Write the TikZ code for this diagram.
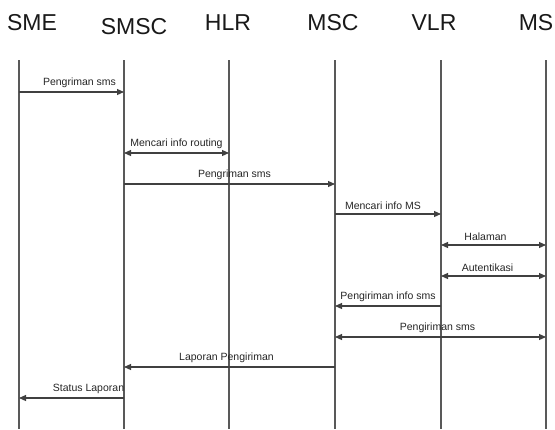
\documentclass[tikz,border=0pt]{standalone}
\usepackage{fontspec}
\setmainfont{Liberation Sans}
\usetikzlibrary{arrows.meta}

\tikzset{
  head/.style={font=\fontsize{23}{23}\selectfont, text=black!90, inner sep=0pt},
  life/.style={draw=black!65, line width=1.2pt},
  msg/.style={draw=black!75, line width=1.1pt, -{Triangle[length=7pt,width=6pt]}},
  msgboth/.style={msg, {Triangle[length=7pt,width=6pt]}-{Triangle[length=7pt,width=6pt]}},
  lbl/.style={font=\fontsize{10.5}{11}\selectfont, text=black!85, inner sep=1pt, above=3pt}
}

\begin{document}
\begin{tikzpicture}[x=1pt, y=-1pt]
\useasboundingbox[fill=white] (0,0) rectangle (555,429);

% headers
\node[head] (hsme) at (32,23) {SME};
\node[head] (hsmsc) at (134,27) {SMSC};
\node[head] (hhlr) at (228,23) {HLR};
\node[head] (hmsc) at (333,23) {MSC};
\node[head] (hvlr) at (434,23) {VLR};
\node[head] (hms) at (536,23) {MS};

% lifelines
\coordinate (sme) at (19,60);
\coordinate (smsc) at (124,60);
\coordinate (hlr) at (229,60);
\coordinate (msc) at (335,60);
\coordinate (vlr) at (441,60);
\coordinate (ms) at (546,60);
\draw[life] (sme) -- (sme |- 0,429);
\draw[life] (smsc) -- (smsc |- 0,429);
\draw[life] (hlr) -- (hlr |- 0,429);
\draw[life] (msc) -- (msc |- 0,429);
\draw[life] (vlr) -- (vlr |- 0,429);
\draw[life] (ms) -- (ms |- 0,429);

% messages
\draw[msg] (sme |- 0,92) -- node[lbl, xshift=8pt] {Pengriman sms} (smsc |- 0,92);
\draw[msgboth] (smsc |- 0,153) -- node[lbl] {Mencari info routing} (hlr |- 0,153);
\draw[msg] (smsc |- 0,184) -- node[lbl, xshift=5pt] {Pengriman sms} (msc |- 0,184);
\draw[msg] (msc |- 0,214) -- node[lbl, xshift=-5pt] {Mencari info MS} (vlr |- 0,214);
\draw[msgboth] (vlr |- 0,245) -- node[lbl, xshift=-8pt] {Halaman} (ms |- 0,245);
\draw[msgboth] (vlr |- 0,276) -- node[lbl, xshift=-6pt] {Autentikasi} (ms |- 0,276);
\draw[msg] (vlr |- 0,306) -- node[lbl] {Pengiriman info sms} (msc |- 0,306);
\draw[msgboth] (msc |- 0,337) -- node[lbl, xshift=-3pt] {Pengiriman sms} (ms |- 0,337);
\draw[msg] (msc |- 0,367) -- node[lbl, xshift=-3pt] {Laporan Pengiriman} (smsc |- 0,367);
\draw[msg] (smsc |- 0,398) -- node[lbl, xshift=17pt] {Status Laporan} (sme |- 0,398);
\end{tikzpicture}
\end{document}
